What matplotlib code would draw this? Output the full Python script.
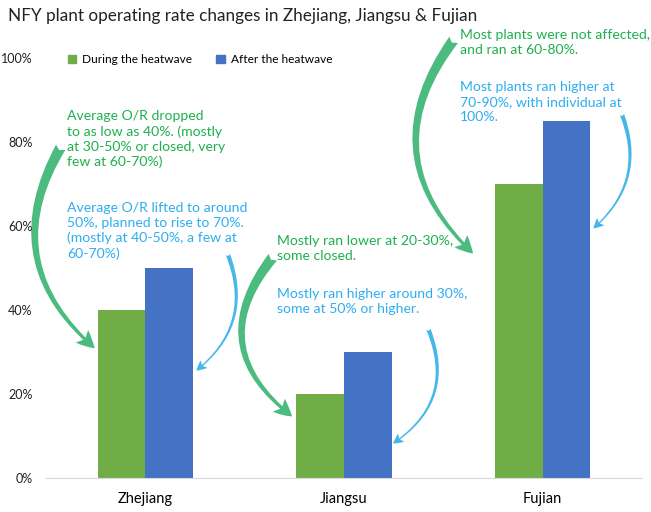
import matplotlib.pyplot as plt
from matplotlib.patches import FancyArrowPatch, Patch
import numpy as np

plt.rcParams['font.family'] = ['Lato', 'DejaVu Sans']

provinces = ['Zhejiang', 'Jiangsu', 'Fujian']
during = [40, 20, 70]
after = [50, 30, 85]
yticks = [0, 20, 40, 60, 80, 100]
ytick_labels = ['0%', '20%', '40%', '60%', '80%', '100%']

green_notes = [
    "Average O/R dropped\nto as low as 40%. (mostly\nat 30-50% or closed, very\nfew at 60-70%)",
    "Mostly ran lower at 20-30%,\nsome closed.",
    "Most plants were not affected,\nand ran at 60-80%.",
]
blue_notes = [
    "Average O/R lifted to around\n50%, planned to rise to 70%.\n(mostly at 40-50%, a few at\n60-70%)",
    "Mostly ran higher around 30%,\nsome at 50% or higher.",
    "Most plants ran higher at\n70-90%, with individual at\n100%.",
]

c_green = '#70ad47'
c_blue = '#4472c4'
t_green = '#1eb04e'
t_blue = '#2eaef0'
a_green = '#4cbb7f'
a_blue = '#45b7e8'

fig = plt.figure(figsize=(6.51, 5.12), dpi=100)
ax = fig.add_axes([0.071, 0.066, 0.915, 0.821])

x = np.arange(len(provinces))
w = 0.24
ax.bar(x - w / 2, during, w, color=c_green)
ax.bar(x + w / 2, after, w, color=c_blue)

ax.set_xlim(-0.5, 2.5)
ax.set_ylim(0, 100)
ax.set_yticks(yticks)
ax.set_yticklabels(ytick_labels, fontsize=9, color='#222222')
ax.set_xticks(x)
ax.set_xticklabels(provinces, fontsize=10.5, color='black')
ax.tick_params(length=0)
ax.tick_params(axis='x', pad=10)
ax.tick_params(axis='y', pad=10)
for s in ['top', 'right', 'left']:
    ax.spines[s].set_visible(False)
ax.spines['bottom'].set_color('#d9d9d9')

fig.text(0.012, 0.968, "NFY plant operating rate changes in Zhejiang, Jiangsu & Fujian",
         fontsize=12.3, color='#222222', va='center', ha='left')

handles = [Patch(color=c_green), Patch(color=c_blue)]
fig.legend(handles, ['During the heatwave', 'After the heatwave'],
           loc='center left', bbox_to_anchor=(0.088, 0.883), ncol=2, frameon=False,
           fontsize=8.6, handlelength=0.7, handleheight=0.7, handletextpad=0.5,
           columnspacing=2.0)

# note text positions (x in category units, y top of text in %)
green_pos = [(-0.395, 87.6), (0.66, 57.8), (1.585, 106.9)]
blue_pos = [(-0.395, 65.8), (0.66, 45.3), (1.585, 94.4)]
for (gx, gy), t in zip(green_pos, green_notes):
    ax.text(gx, gy, t, color=t_green, fontsize=10.1, va='top', ha='left',
            linespacing=1.3, clip_on=False)
for (bx, by), t in zip(blue_pos, blue_notes):
    ax.text(bx, by, t, color=t_blue, fontsize=10.1, va='top', ha='left',
            linespacing=1.3, clip_on=False)

# curved arrows: (tail, head, rad)
green_arrows = [((-0.42, 79.3), (-0.245, 30.5), 0.42),
                ((0.65, 53.1), (0.75, 14.3), 0.52),
                ((1.56, 104.8), (1.66, 53.0), 0.45)]
blue_arrows = [((0.41, 53.8), (0.245, 25.2), -0.38),
               ((1.42, 36.0), (1.235, 7.9), -0.42),
               ((2.395, 87.1), (2.245, 59.0), -0.36)]
for tail, head, rad in green_arrows:
    ax.add_patch(FancyArrowPatch(tail, head, connectionstyle=f"arc3,rad={rad}",
                                 arrowstyle="fancy,head_length=0.9,head_width=0.9,tail_width=0.55",
                                 mutation_scale=14, color=a_green, lw=0, clip_on=False))
for tail, head, rad in blue_arrows:
    ax.add_patch(FancyArrowPatch(tail, head, connectionstyle=f"arc3,rad={rad}",
                                 arrowstyle="fancy,head_length=0.8,head_width=0.8,tail_width=0.35",
                                 mutation_scale=9, color=a_blue, lw=0, clip_on=False))

fig.savefig('out.png', dpi=100)
